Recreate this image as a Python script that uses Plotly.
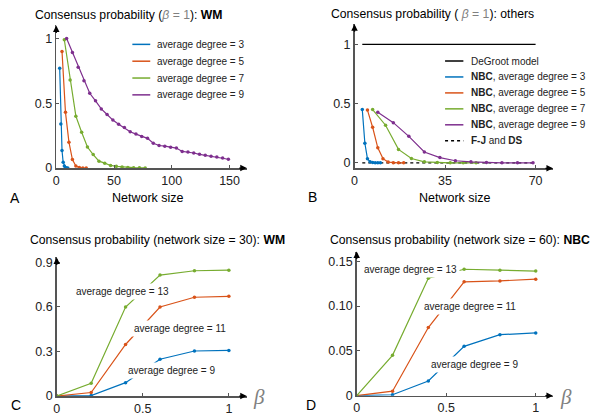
import plotly.graph_objects as go

W, H = 596, 419
COLORS = ["#0072BD", "#D95319", "#77AC30", "#7E2F8E"]
FONT = "Liberation Sans"

# ---------------- Panel A : WM, beta = 1 ----------------
a_labels = ["average degree = 3", "average degree = 5", "average degree = 7", "average degree = 9"]
a_x3 = [3, 4, 5, 6, 7, 8, 9, 10]
a_y3 = [0.77, 0.34, 0.135, 0.045, 0.015, 0.005, 0.001, 0.0]
a_x5 = [5, 8, 11, 14, 17, 20, 23, 26]
a_y5 = [0.90, 0.43, 0.20, 0.066, 0.016, 0.004, 0.001, 0.0]
a_x7 = [7, 12, 17, 22, 27, 32, 37, 42, 47, 52, 57, 62, 67, 72, 77]
a_y7 = [0.99, 0.68, 0.40, 0.276, 0.162, 0.104, 0.053, 0.038, 0.02, 0.013,
        0.008, 0.005, 0.003, 0.002, 0.001]
a_x9 = [9, 14, 19, 24, 29, 34, 39, 44, 49, 54, 59, 64, 69, 74, 79, 84, 89, 94,
        99, 104, 109, 114, 119, 124, 129, 134, 139, 144, 149]
a_y9 = [1.0, 0.892, 0.778, 0.673, 0.577, 0.519, 0.456, 0.413, 0.370, 0.338,
        0.312, 0.280, 0.262, 0.244, 0.229, 0.191, 0.174, 0.169, 0.161, 0.154,
        0.128, 0.123, 0.116, 0.106, 0.098, 0.091, 0.086, 0.078, 0.068]

# ---------------- Panel B : others, beta = 1 ----------------
b_labels = ["DeGroot model", "<b>NBC</b>, average degree = 3", "<b>NBC</b>, average degree = 5",
            "<b>NBC</b>, average degree = 7", "<b>NBC</b>, average degree = 9",
            "<b>F-J</b> and <b>DS</b>"]
b_degroot_x = [3, 70]
b_degroot_y = [1, 1]
b_fj_x = [3, 70]
b_fj_y = [0, 0]
b_x3 = [3, 4, 5, 6, 7, 8, 9, 10]
b_y3 = [0.449, 0.165, 0.035, 0.008, 0.002, 0.0, 0.0, 0.0]
b_x5 = [5, 7, 9, 11, 13, 15, 17, 19]
b_y5 = [0.445, 0.30, 0.126, 0.035, 0.006, 0.001, 0.0, 0.0]
b_x7 = [7, 12, 17, 22, 27, 32, 37, 42, 47]
b_y7 = [0.449, 0.317, 0.113, 0.036, 0.008, 0.003, 0.0, 0.0, 0.0]
b_x9 = [9, 15, 21, 27, 33, 39, 45, 51, 57, 63, 69]
b_y9 = [0.427, 0.339, 0.223, 0.091, 0.044, 0.017, 0.008, 0.003, 0.0, 0.0, 0.0]

# ---------------- Panel C : WM, network size 30 ----------------
beta = [0, 0.2, 0.4, 0.6, 0.8, 1.0]
c_y9 = [0, 0.003, 0.09, 0.248, 0.303, 0.307]
c_y11 = [0, 0.024, 0.347, 0.599, 0.665, 0.671]
c_y13 = [0, 0.086, 0.599, 0.814, 0.843, 0.847]
c_text = ["average degree = 9", "average degree = 11", "average degree = 13"]

# ---------------- Panel D : NBC, network size 60 ----------------
d_y9 = [0, 0.001, 0.0164, 0.055, 0.068, 0.070]
d_y11 = [0, 0.005, 0.076, 0.127, 0.128, 0.130]
d_y13 = [0, 0.045, 0.131, 0.141, 0.140, 0.139]
d_text = ["average degree = 9", "average degree = 11", "average degree = 13"]

AXIS_COLOR = "#555555"


def px(x):
    return x / W


def py(y):
    return 1 - y / H


fig = go.Figure()


def line_trace(x, y, color, xa, ya, dash="solid", markers=True):
    fig.add_trace(go.Scatter(
        x=x, y=y, xaxis=xa, yaxis=ya,
        mode="lines+markers" if markers else "lines",
        line=dict(color=color, width=1.2, dash=dash),
        marker=dict(size=3.5, color=color),
        showlegend=False, hoverinfo="skip"))


# Panel A traces
for xs, ys, c in zip([a_x3, a_x5, a_x7, a_x9], [a_y3, a_y5, a_y7, a_y9], COLORS):
    line_trace(xs, ys, c, "x", "y")

# Panel B traces
line_trace(b_degroot_x, b_degroot_y, "black", "x2", "y2", markers=False)
line_trace(b_fj_x, b_fj_y, "black", "x2", "y2", dash="3px,3px", markers=False)
for xs, ys, c in zip([b_x3, b_x5, b_x7, b_x9], [b_y3, b_y5, b_y7, b_y9], COLORS):
    line_trace(xs, ys, c, "x2", "y2")

# Panel C traces
for ys, c in zip([c_y9, c_y11, c_y13], COLORS[:3]):
    line_trace(beta, ys, c, "x3", "y3")

# Panel D traces
for ys, c in zip([d_y9, d_y11, d_y13], COLORS[:3]):
    line_trace(beta, ys, c, "x4", "y4")


def axis(domain, rng, tickvals, ticktext, anchor):
    return dict(domain=domain, range=rng, tickvals=tickvals, ticktext=ticktext,
                anchor=anchor, showline=True, linecolor=AXIS_COLOR, linewidth=1.5,
                ticks="inside", ticklen=3, tickcolor=AXIS_COLOR, tickwidth=1,
                showgrid=False, zeroline=False, fixedrange=True,
                tickfont=dict(size=12.5, color="#222222", family=FONT))


layout = dict(
    autosize=True, margin=dict(l=0, r=0, t=0, b=0),
    paper_bgcolor="white", plot_bgcolor="white",
    font=dict(family=FONT, color="black"),
    showlegend=False,
    xaxis=axis([px(53.5), px(245)], [0, 164.9], [0, 50, 100, 150], ["0", "50", "100", "150"], "y"),
    yaxis=axis([py(169.7), py(24)], [0, 1.100], [0, 0.5, 1], ["0", "0.5", "1"], "x"),
    xaxis2=axis([px(353.3), px(552.7)], [0, 76.7], [0, 35, 70], ["0", "35", "70"], "y2"),
    yaxis2=axis([py(170), py(22.7)], [-0.047, 1.170], [0, 0.5, 1], ["0", "0.5", "1"], "x2"),
    xaxis3=axis([px(54), px(245)], [0, 1.104], [0, 0.5, 1], ["0", "0.5", "1"], "y3"),
    yaxis3=axis([py(402.7), py(261)], [0, 0.933], [0, 0.3, 0.6, 0.9], ["0", "0.3", "0.6", "0.9"], "x3"),
    xaxis4=axis([px(355.5), px(552.7)], [0, 1.096], [0, 0.5, 1], ["0", "0.5", "1"], "y4"),
    yaxis4=axis([py(402.3), py(255)], [0, 0.1608], [0, 0.05, 0.10, 0.15], ["0", "0.05", "0.10", "0.15"], "x4"),
)
fig.update_layout(**layout)

ann = []
shapes = []

# Axis arrows
for xa, ya in [("x", "y"), ("x2", "y2"), ("x3", "y3"), ("x4", "y4")]:
    ann.append(dict(xref=f"{xa} domain", yref=f"{ya} domain", x=1, y=0, text="",
                    showarrow=True, ax=-9, ay=0, arrowhead=2, arrowsize=1,
                    arrowwidth=1.3, arrowcolor="black", standoff=0))
    ann.append(dict(xref=f"{xa} domain", yref=f"{ya} domain", x=0, y=1, text="",
                    showarrow=True, ax=0, ay=9, arrowhead=2, arrowsize=1,
                    arrowwidth=1.3, arrowcolor="black", standoff=0))

GRAY_B = "<span style='color:#808080'><i>β</i> = 1</span>"
GRAY_B2 = "<span style='color:#808080'> <i>β</i> = 1</span>"
titles = [
    (29.7, 13.3, f"Consensus probability ({GRAY_B}): <b>WM</b>"),
    (327.3, 12.7, f"Consensus probability ({GRAY_B2}): others"),
    (24.7, 243.3, "Consensus probability (network size = 30): <b>WM</b>"),
    (326.7, 243.3, "Consensus probability (network size = 60): <b>NBC</b>"),
]
for x, y, t in titles:
    ann.append(dict(xref="paper", yref="paper", x=px(x), y=py(y), text=t,
                    showarrow=False, xanchor="left", yanchor="middle",
                    font=dict(size=12.2, family=FONT, color="black")))

# Axis titles
for x, y in [(145.7, 200), (454.3, 200)]:
    ann.append(dict(xref="paper", yref="paper", x=px(x), y=py(y), text="Network size",
                    showarrow=False, xanchor="center", yanchor="middle",
                    font=dict(size=12.5, family=FONT, color="black")))
for x, y in [(257.5, 403.5), (566, 403.5)]:
    ann.append(dict(xref="paper", yref="paper", x=px(x), y=py(y), text="<i>β</i>",
                    showarrow=False, xanchor="center", yanchor="middle",
                    font=dict(size=21, family="Liberation Serif", color="#808080")))

# Panel letters
for x, y, t in [(11.7, 200, "A"), (311, 199.3, "B"), (13.3, 411.7, "C"), (309.3, 411.7, "D")]:
    ann.append(dict(xref="paper", yref="paper", x=px(x), y=py(y), text=t,
                    showarrow=False, xanchor="center", yanchor="middle",
                    font=dict(size=14, family=FONT, color="black")))

# Legend A
for i, (lab, c) in enumerate(zip(a_labels, COLORS)):
    yy = 43.3 + i * 17.2
    shapes.append(dict(type="line", xref="paper", yref="paper", x0=px(130), x1=px(148),
                       y0=py(yy), y1=py(yy), line=dict(color=c, width=1.5)))
    ann.append(dict(xref="paper", yref="paper", x=px(152.5), y=py(yy), text=lab,
                    showarrow=False, xanchor="left", yanchor="middle",
                    font=dict(size=10, family=FONT, color="#222222")))

# Legend B
b_colors = ["black"] + COLORS + ["black"]
b_dash = ["solid"] * 5 + ["3px,3px"]
for i, (lab, c, d) in enumerate(zip(b_labels, b_colors, b_dash)):
    yy = 60.3 + i * 16.3
    shapes.append(dict(type="line", xref="paper", yref="paper", x0=px(444.3), x1=px(462.7),
                       y0=py(yy), y1=py(yy), line=dict(color=c, width=1.5, dash=d)))
    ann.append(dict(xref="paper", yref="paper", x=px(468.5), y=py(yy), text=lab,
                    showarrow=False, xanchor="left", yanchor="middle",
                    font=dict(size=10, family=FONT, color="#222222")))

# Curve labels C and D (white boxes cut the lines)
for (x, y), t in zip([(0.664, 0.169), (0.717, 0.457), (0.3815, 0.704)], c_text):
    ann.append(dict(xref="x3", yref="y3", x=x, y=y, text=t, showarrow=False,
                    bgcolor="white", borderpad=2, borderwidth=1, bordercolor="rgba(0,0,0,0)",
                    font=dict(size=10, family=FONT, color="#222222")))
for (x, y), t in zip([(0.66, 0.035), (0.632, 0.1), (0.302, 0.1408)], d_text):
    ann.append(dict(xref="x4", yref="y4", x=x, y=y, text=t, showarrow=False,
                    bgcolor="white", borderpad=2, borderwidth=1, bordercolor="rgba(0,0,0,0)",
                    font=dict(size=10, family=FONT, color="#222222")))

fig.update_layout(annotations=ann, shapes=shapes)
fig.write_html(
    "out.html",
    config={"displayModeBar": False, "staticPlot": True},
    default_width="100vw",
    default_height="100vh",
    post_script=("document.documentElement.style.overflow='hidden';"
                 "document.body.style.margin='0';"
                 "document.body.style.overflow='hidden';"),
)
